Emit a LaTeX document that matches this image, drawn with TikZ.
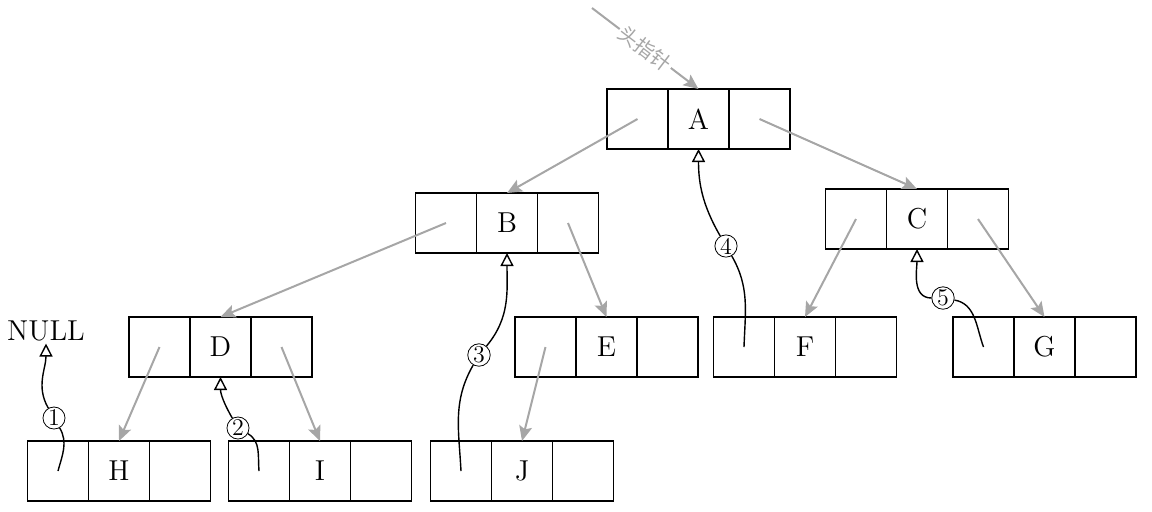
\documentclass[tikz,border=0pt]{standalone}
\usepackage{fontspec}
\newfontfamily\cjk{Noto Sans CJK SC}
\usetikzlibrary{positioning, arrows.meta}

\tikzset{
    cell/.style={draw, line width=0.8pt, outer sep=0pt, minimum width=30.5pt, minimum height=30pt, inner sep=0pt, font=\Large},
    child/.style={draw=black!35, line width=1pt, -{Stealth[length=7.5pt, width=6.5pt, inset=1.5pt]}},
    thread/.style={draw, line width=0.7pt, -{Triangle[open, length=6.5pt, width=6.5pt]}},
    num/.style={circle, draw, line width=0.4pt, inner sep=0.4pt, minimum size=11pt, fill=white, font=\large}
}

\begin{document}
\begin{tikzpicture}[x=0.5pt, y=-0.5pt]
            \useasboundingbox (0,0) rectangle (1152,511);

            % Nodes
            \node[cell] (A) at (698.5,119) {A};
            \node[cell, left=0pt of A] (Al) {};
            \node[cell, right=0pt of A] (Ar) {};
            \node[cell] (B) at (507,223) {B};
            \node[cell, left=0pt of B] (Bl) {};
            \node[cell, right=0pt of B] (Br) {};
            \node[cell] (C) at (917,219) {C};
            \node[cell, left=0pt of C] (Cl) {};
            \node[cell, right=0pt of C] (Cr) {};
            \node[cell] (D) at (220.5,347) {D};
            \node[cell, left=0pt of D] (Dl) {};
            \node[cell, right=0pt of D] (Dr) {};
            \node[cell] (E) at (606.5,347) {E};
            \node[cell, left=0pt of E] (El) {};
            \node[cell, right=0pt of E] (Er) {};
            \node[cell] (F) at (805,347) {F};
            \node[cell, left=0pt of F] (Fl) {};
            \node[cell, right=0pt of F] (Fr) {};
            \node[cell] (G) at (1044.5,347) {G};
            \node[cell, left=0pt of G] (Gl) {};
            \node[cell, right=0pt of G] (Gr) {};
            \node[cell] (H) at (119,471) {H};
            \node[cell, left=0pt of H] (Hl) {};
            \node[cell, right=0pt of H] (Hr) {};
            \node[cell] (I) at (320,471) {I};
            \node[cell, left=0pt of I] (Il) {};
            \node[cell, right=0pt of I] (Ir) {};
            \node[cell] (J) at (522,471) {J};
            \node[cell, left=0pt of J] (Jl) {};
            \node[cell, right=0pt of J] (Jr) {};
            \node[font=\Large, inner sep=1pt] (null) at (46,331) {NULL};

            % Head pointer
            \coordinate (head) at (592,8);
            \draw[child] (head) -- node[sloped, fill=white, inner sep=1pt, text=black!35, font=\cjk] {头指针} (A.north);

            % Child links
            \draw[child] (Al.center) -- (B.north);
            \draw[child] (Ar.center) -- (C.north);
            \draw[child] (Bl.center) -- (D.north);
            \draw[child] (Br.center) -- (E.north);
            \draw[child] (Cl.center) -- (F.north);
            \draw[child] (Cr.center) -- (G.north);
            \draw[child] (Dl.center) -- (H.north);
            \draw[child] (Dr.center) -- (I.north);
            \draw[child] (El.center) -- (J.north);

            % Threads
            \node[num] (n1) at (54,418) {1};
            \node[num] (n2) at (238,428) {2};
            \node[num] (n3) at (479,355) {3};
            \node[num] (n4) at (726,246) {4};
            \node[num] (n5) at (943,298) {5};
            \draw[line width=0.7pt] (Hl.center) to[out=75, in=-60] (n1);
            \draw[thread] (n1) to[out=120, in=-90] (null.south);
            \draw[line width=0.7pt] (Il.center) to[out=95, in=-30] (n2);
            \draw[thread] (n2) to[out=120, in=-90] (D.south);
            \draw[line width=0.7pt] (Jl.center) to[out=93, in=-120] (n3);
            \draw[thread] (n3) to[out=50, in=-90] (B.south);
            \draw[line width=0.7pt] (Fl.center) to[out=88, in=-60] (n4);
            \draw[thread] (n4) to[out=120, in=-90] (A.south);
            \draw[line width=0.7pt] (Gl.center) to[out=110, in=-10] (n5);
            \draw[thread] (n5) to[out=180, in=-90] (C.south);
\end{tikzpicture}
\end{document}
